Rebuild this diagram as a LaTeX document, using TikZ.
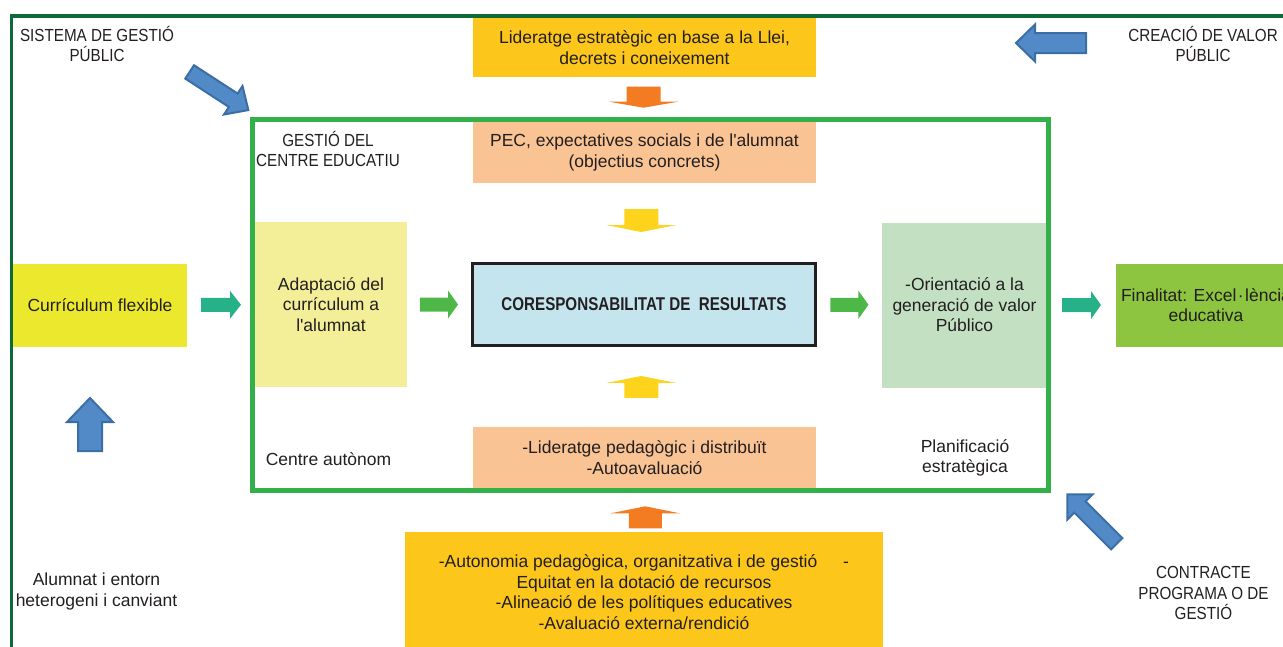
\documentclass[tikz,border=0pt]{standalone}
\usepackage{fontspec}
\setmainfont{Liberation Sans}
\newfontfamily\condsans{Liberation Sans}[FakeStretch=0.82]
\newfontfamily\capsans{Liberation Sans}[FakeStretch=0.87]
\usetikzlibrary{calc}
\definecolor{ink}{HTML}{231F20}
\definecolor{frameDark}{HTML}{0D6A37}
\definecolor{frameGreen}{HTML}{33B04A}
\definecolor{gold}{HTML}{FCC61B}
\definecolor{peach}{HTML}{F9C393}
\definecolor{paleYellow}{HTML}{F2EF98}
\definecolor{lemon}{HTML}{ECE82E}
\definecolor{skyPale}{HTML}{C5E5EE}
\definecolor{mint}{HTML}{C3E1C2}
\definecolor{leaf}{HTML}{8DC540}
\definecolor{tealArrow}{HTML}{26B189}
\definecolor{greenArrow}{HTML}{4DB848}
\definecolor{orangeArrow}{HTML}{F37B22}
\definecolor{yellowArrow}{HTML}{FDD31B}
\definecolor{blueFill}{HTML}{5289C7}
\definecolor{blueEdge}{HTML}{3B6EA5}
\tikzset{
  % block arrow centred on the origin, pointing along +x:
  % {length}{shaft width}{head width}{head length}
  pics/blockarrow/.style n args={4}{code={
    \path[pic actions] (-#1/2,-#2/2) -- (#1/2-#4,-#2/2) -- (#1/2-#4,-#3/2)
      -- (#1/2,0) -- (#1/2-#4,#3/2) -- (#1/2-#4,#2/2) -- (-#1/2,#2/2) -- cycle;
  }},
  lbl/.style={text=ink, font=\fontsize{17.5}{20.5}\selectfont, align=center, inner sep=0pt},
  caplbl/.style={lbl, font=\capsans\fontsize{17.5}{20.5}\selectfont},
  panel/.style n args={3}{lbl, fill=#1, minimum width=#2, minimum height=#3},
  bluearrow/.style={fill=blueFill, draw=blueEdge, line width=2, line join=miter},
}
\begin{document}
\begin{tikzpicture}[x=1pt,y=-1pt]
\useasboundingbox (0,0) rectangle (1283,646);
\clip (0,0) rectangle (1283,646);

% outer frame of the public management system
\draw[frameDark, line width=3.5] (11.5,670) -- (11.5,16) -- (1320,16);

% top and bottom drivers
\node[panel={gold}{343}{59}] (llei) at (644.5,47.5)
  {Lideratge estratègic en base a la Llei,\\decrets i coneixement};
\node[panel={gold}{478}{120}] (autonomia) at (644,592)
  {-Autonomia pedagògica, organitzativa i de gestió\hspace{26pt}-\\
   Equitat en la dotació de recursos\\
   -Alineació de les polítiques educatives\\
   -Avaluació externa/rendició};

% boxes inside the school
\node[panel={peach}{343}{61}] (pec) at (644.5,152.5)
  {PEC, expectatives socials i de l\textquotesingle alumnat\\(objectius concrets)};
\node[panel={peach}{343}{61}] (lidped) at (644.5,457.5)
  {-Lideratge pedagògic i distribuït\\-Autoavaluació};
\node[panel={paleYellow}{152}{165}] (adapt) at (331,304.5)
  {Adaptació del\\currículum a\\l\textquotesingle alumnat};
\node[panel={mint}{165}{165}] (orient) at (964.5,305)
  {-Orientació a la\\generació de valor\\Público};
\node[lbl, fill=skyPale, draw=ink, line width=3.3, minimum width=343, minimum height=82]
  (core) at (644,304.5)
  {\condsans\bfseries\fontsize{18.5}{20}\selectfont CORESPONSABILITAT DE\ \ RESULTATS};

% boxes outside the school
\node[panel={lemon}{174}{83}] (curr) at (100,305) {Currículum flexible};
\node[panel={leaf}{180}{83}] (final) at (1206,305)
  {Finalitat: Excel\kern1.5pt·\kern1.5pt lència\\educativa};

% frame of the school management
\node[draw=frameGreen, line width=4.5, minimum width=796, minimum height=371,
  inner sep=0pt] (centre) at (650.5,305) {};

% labels
\node[caplbl] (sistema) at (97,44) {SISTEMA DE GESTIÓ\\PÚBLIC};
\node[caplbl] (creacio) at (1203,44) {CREACIÓ DE VALOR\\PÚBLIC};
\node[caplbl] (gestio) at (328,149) {GESTIÓ DEL\\CENTRE EDUCATIU};
\node[lbl] (autonom) at (328.5,459) {Centre autònom};
\node[lbl] (planif) at (965,458) {Planificació\\estratègica};
\node[lbl] (alumnat) at (96.5,591.5) {Alumnat i entorn\\heterogeni i canviant};
\node[caplbl] (contracte) at (1203.5,593) {CONTRACTE\\PROGRAMA O DE\\GESTIÓ};

% horizontal flow arrows
\pic[fill=tealArrow] at ($(curr.east)!0.5!(adapt.west)$) {blockarrow={40}{14}{28}{11}};
\pic[fill=greenArrow] at ($(adapt.east)!0.5!(core.west)$) {blockarrow={38}{14}{28}{10}};
\pic[fill=greenArrow] at ($(core.east)!0.5!(orient.west)$) {blockarrow={38}{14}{28}{10}};
\pic[fill=tealArrow] at ($(orient.east)!0.5!(final.west)$) {blockarrow={39}{14}{28}{10}};

% vertical flow arrows
\pic[fill=orangeArrow, rotate=-90] at ($(llei.south)!0.5!(centre.north)+(-4,0)$) {blockarrow={21}{34}{69}{6}};
\pic[fill=yellowArrow, rotate=-90] at ($(pec.south)!0.5!(core.north)+(-3,-2)$) {blockarrow={23}{34}{70}{7}};
\pic[fill=yellowArrow, rotate=90] at ($(core.south)!0.5!(lidped.north)+(-3,0)$) {blockarrow={22}{34}{70}{7}};
\pic[fill=orangeArrow, rotate=90] at ($(centre.south)!0.5!(autonomia.north)+(-2,5)$) {blockarrow={22}{33}{69}{7}};

% context arrows
\pic[bluearrow, rotate=-33] at (219,91) {blockarrow={70}{16}{34}{18}};
\pic[bluearrow, rotate=180] at (1051,43) {blockarrow={70}{20}{37}{19}};
\pic[bluearrow, rotate=90] at (90,424.5) {blockarrow={53}{24}{46}{24}};
\pic[bluearrow, rotate=135] at (1092,519) {blockarrow={70}{16}{36}{18}};
\end{tikzpicture}
\end{document}
